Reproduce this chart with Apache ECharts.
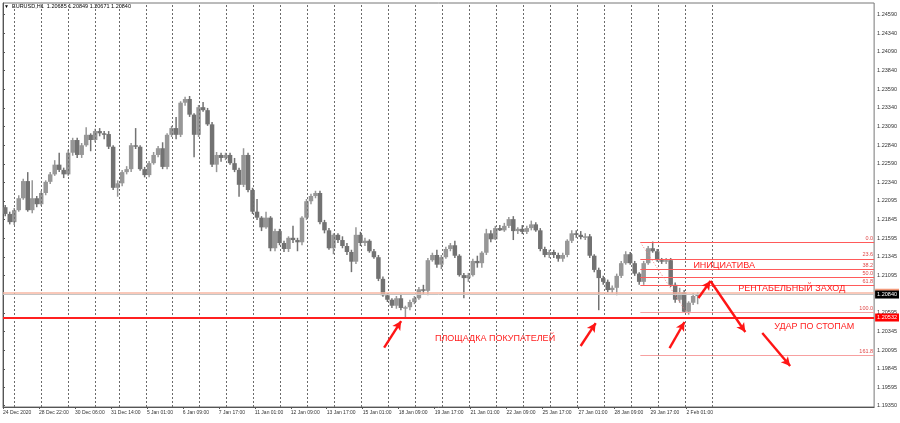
<!DOCTYPE html>
<html>
<head>
<meta charset="utf-8">
<script src="https://cdn.jsdelivr.net/npm/echarts@6/dist/echarts.min.js"></script>
<style>
html, body { margin: 0; padding: 0; background: #fff; }
#chart { width: 900px; height: 423px; }
</style>
</head>
<body>
<div id="chart"></div>
<script>
// EURUSD H1, grouped into 4-hour bars; x axis counts trading hours from 24 Dec 14:00
var barHours = 4;
var opens = [1.2201,1.2192,1.2181,1.2197,1.2213,1.2236,1.2197,1.2213,1.2205,1.2220,1.2235,1.2245,1.2258,1.2251,1.2245,1.2274,1.2291,1.2271,1.2284,1.2298,
  1.2291,1.2303,1.2300,1.2299,1.2282,1.2227,1.2233,1.2248,1.2252,1.2284,1.2282,1.2252,1.2244,1.2260,1.2271,1.2280,1.2255,1.2298,1.2307,1.2298,
  1.2341,1.2346,1.2325,1.2298,1.2335,1.2331,1.2312,1.2258,1.2271,1.2267,1.2271,1.2260,1.2251,1.2231,1.2271,1.2224,1.2195,1.2187,1.2174,1.2187,
  1.2146,1.2169,1.2153,1.2145,1.2160,1.2157,1.2154,1.2187,1.2209,1.2216,1.2220,1.2181,1.2170,1.2146,1.2164,1.2157,1.2149,1.2141,1.2128,1.2164,
  1.2153,1.2156,1.2142,1.2134,1.2105,1.2083,1.2077,1.2069,1.2079,1.2066,1.2067,1.2074,1.2079,1.2091,1.2089,1.2130,1.2137,1.2124,1.2134,1.2145,
  1.2150,1.2136,1.2110,1.2106,1.2110,1.2129,1.2126,1.2140,1.2166,1.2158,1.2173,1.2170,1.2176,1.2185,1.2169,1.2172,1.2168,1.2173,1.2178,1.2170,
  1.2145,1.2137,1.2141,1.2137,1.2132,1.2137,1.2156,1.2166,1.2164,1.2161,1.2162,1.2136,1.2117,1.2106,1.2101,1.2090,1.2093,1.2109,1.2126,1.2138,
  1.2126,1.2112,1.2101,1.2126,1.2146,1.2142,1.2130,1.2128,1.2130,1.2097,1.2077,1.2087,1.2061,1.2073,1.2082];
var closes = [1.2192,1.2181,1.2197,1.2213,1.2236,1.2197,1.2213,1.2205,1.2220,1.2235,1.2245,1.2258,1.2251,1.2245,1.2274,1.2291,1.2271,1.2284,1.2298,1.2291,
  1.2303,1.2300,1.2299,1.2282,1.2227,1.2233,1.2248,1.2252,1.2284,1.2282,1.2252,1.2244,1.2260,1.2271,1.2280,1.2255,1.2298,1.2307,1.2298,1.2341,
  1.2346,1.2325,1.2298,1.2335,1.2331,1.2312,1.2258,1.2271,1.2267,1.2271,1.2260,1.2251,1.2231,1.2271,1.2224,1.2195,1.2187,1.2174,1.2187,1.2146,
  1.2169,1.2153,1.2145,1.2160,1.2157,1.2154,1.2187,1.2209,1.2216,1.2220,1.2181,1.2170,1.2146,1.2164,1.2157,1.2149,1.2141,1.2128,1.2164,1.2153,
  1.2156,1.2142,1.2134,1.2105,1.2083,1.2077,1.2069,1.2079,1.2066,1.2067,1.2074,1.2079,1.2091,1.2089,1.2130,1.2137,1.2124,1.2134,1.2145,1.2150,
  1.2136,1.2110,1.2106,1.2110,1.2129,1.2126,1.2140,1.2166,1.2158,1.2173,1.2170,1.2176,1.2185,1.2169,1.2172,1.2168,1.2173,1.2178,1.2170,1.2145,
  1.2137,1.2141,1.2137,1.2132,1.2137,1.2156,1.2166,1.2164,1.2161,1.2162,1.2136,1.2117,1.2106,1.2101,1.2090,1.2093,1.2109,1.2126,1.2138,1.2126,
  1.2112,1.2101,1.2126,1.2146,1.2142,1.2130,1.2128,1.2130,1.2097,1.2077,1.2087,1.2061,1.2073,1.2082,1.2084];
var lows = [1.2189,1.2178,1.2177,1.2195,1.2211,1.2195,1.2193,1.2201,1.2203,1.2217,1.2232,1.2243,1.2248,1.2240,1.2243,1.2270,1.2267,1.2267,1.2282,1.2276,
  1.2288,1.2296,1.2292,1.2279,1.2224,1.2215,1.2229,1.2245,1.2248,1.2279,1.2250,1.2241,1.2241,1.2258,1.2268,1.2252,1.2252,1.2295,1.2292,1.2295,
  1.2337,1.2322,1.2268,1.2295,1.2329,1.2310,1.2255,1.2248,1.2262,1.2264,1.2258,1.2248,1.2215,1.2228,1.2221,1.2192,1.2184,1.2169,1.2172,1.2142,
  1.2142,1.2150,1.2141,1.2141,1.2153,1.2142,1.2150,1.2184,1.2205,1.2213,1.2178,1.2166,1.2144,1.2138,1.2153,1.2146,1.2137,1.2114,1.2125,1.2149,
  1.2149,1.2140,1.2132,1.2102,1.2081,1.2074,1.2066,1.2065,1.2063,1.2053,1.2063,1.2071,1.2077,1.2085,1.2083,1.2128,1.2120,1.2118,1.2132,1.2142,
  1.2133,1.2108,1.2079,1.2101,1.2108,1.2120,1.2120,1.2137,1.2154,1.2157,1.2169,1.2168,1.2173,1.2157,1.2165,1.2165,1.2165,1.2170,1.2168,1.2142,
  1.2134,1.2133,1.2133,1.2128,1.2128,1.2134,1.2153,1.2160,1.2158,1.2157,1.2133,1.2114,1.2063,1.2097,1.2087,1.2086,1.2083,1.2106,1.2124,1.2124,
  1.2109,1.2097,1.2097,1.2124,1.2140,1.2128,1.2125,1.2125,1.2094,1.2073,1.2073,1.2060,1.2057,1.2070,1.2071];
var highs = [1.2204,1.2195,1.2200,1.2217,1.2239,1.2248,1.2237,1.2216,1.2223,1.2237,1.2248,1.2264,1.2274,1.2254,1.2278,1.2294,1.2294,1.2287,1.2308,1.2300,
  1.2306,1.2307,1.2303,1.2303,1.2284,1.2237,1.2251,1.2256,1.2287,1.2307,1.2284,1.2255,1.2263,1.2275,1.2283,1.2288,1.2300,1.2310,1.2322,1.2343,
  1.2349,1.2350,1.2327,1.2338,1.2342,1.2334,1.2315,1.2275,1.2274,1.2274,1.2274,1.2267,1.2254,1.2280,1.2274,1.2227,1.2212,1.2189,1.2195,1.2189,
  1.2172,1.2172,1.2156,1.2162,1.2176,1.2160,1.2189,1.2212,1.2219,1.2223,1.2223,1.2184,1.2173,1.2166,1.2166,1.2162,1.2153,1.2144,1.2174,1.2168,
  1.2160,1.2158,1.2145,1.2137,1.2108,1.2086,1.2079,1.2082,1.2085,1.2069,1.2077,1.2082,1.2094,1.2097,1.2133,1.2140,1.2144,1.2137,1.2148,1.2153,
  1.2156,1.2138,1.2113,1.2113,1.2132,1.2136,1.2142,1.2172,1.2170,1.2176,1.2177,1.2180,1.2188,1.2189,1.2174,1.2177,1.2176,1.2183,1.2181,1.2173,
  1.2148,1.2144,1.2144,1.2140,1.2140,1.2158,1.2170,1.2170,1.2169,1.2166,1.2165,1.2138,1.2120,1.2109,1.2104,1.2096,1.2112,1.2129,1.2142,1.2141,
  1.2129,1.2114,1.2129,1.2149,1.2155,1.2145,1.2133,1.2133,1.2133,1.2100,1.2093,1.2090,1.2075,1.2086,1.2087];

// time axis labels (hour index -> text)
var timeTickIdx = [0,32,64,96,128,160,192,224,256,288,320,352,384,416,448,480,512,544,576,608];
var timeLabels = ['24 Dec 2020','28 Dec 22:00','30 Dec 06:00','31 Dec 14:00','5 Jan 01:00','6 Jan 09:00','7 Jan 17:00',
  '11 Jan 01:00','12 Jan 09:00','13 Jan 17:00','15 Jan 01:00','18 Jan 09:00','19 Jan 17:00','21 Jan 01:00',
  '22 Jan 09:00','25 Jan 17:00','27 Jan 01:00','28 Jan 09:00','29 Jan 17:00','2 Feb 01:00'];
// day separators (hour index of 00:00 of each day)
var daySeparators = [10,34,58,82,103,127,151,175,199,223,247,271,295,319,343,367,391,415,439,463,487,511,535,559,583,607,631];
// price scale labels
var priceTicks = [1.19350,1.19595,1.19845,1.20095,1.20345,1.20595,1.21095,1.21345,1.21595,1.21845,1.22095,
  1.22340,1.22590,1.22840,1.23090,1.23340,1.23590,1.23840,1.24090,1.24340,1.24590];

// levels
var bidPrice = 1.20840;
var supportLevel = 1.20532;
var entryLevel = 1.20864;
var fibNames = ['0.0','23.6','38.2','50.0','61.8','100.0','161.8'];
var fibLevels = [1.21540,1.21318,1.21181,1.21071,1.20960,1.20602,1.20022];
var fibStart = 567, fibEnd = 775, fibLowIdx = 608;
var axisStart = 0, axisEnd = 775;

var myChart;
chartInit();

function chartInit() {
	myChart = echarts.init(document.getElementById('chart'));
	var data = [];
	for (var i = 0; i < closes.length; i++) {
		data.push([i * barHours + barHours / 2, opens[i], closes[i], lows[i], highs[i]]);
	}
	myChart.setOption(buildOption(data));
	window.onresize = myChart.resize;
}

// одна свеча
function drawCandle(params, api) {
	var t = api.value(0);
	var o = api.value(1), c = api.value(2);
	var pO = api.coord([t, o]);
	var pC = api.coord([t, c]);
	var pL = api.coord([t, api.value(3)]);
	var pH = api.coord([t, api.value(4)]);
	var w = api.size([barHours, 0])[0];
	var col = c >= o ? '#979797' : '#727272';
	var top = Math.min(pO[1], pC[1]);
	var h = Math.max(1.5, Math.abs(pO[1] - pC[1]));
	return {
		type : 'group',
		children : [{
			type : 'line',
			shape : { x1 : pL[0], y1 : pL[1], x2 : pH[0], y2 : pH[1] },
			style : { stroke : col, lineWidth : 1.5 }
		}, {
			type : 'rect',
			shape : { x : pO[0] - w / 2, y : top, width : w, height : h },
			style : { fill : col }
		}]
	};
}

function tagLabel(text, bg, fg) {
	return {
		show : true, position : 'end', distance : 1, formatter : text,
		backgroundColor : bg, color : fg, fontSize : 5.5, padding : [1, 2],
		fontFamily : 'Liberation Sans'
	};
}

// горизонтальная линия от x1 до x2
function hLine(v, x1, x2, style, label) {
	return [{ coord : [x1, v], symbol : 'none', lineStyle : style },
		{ coord : [x2, v], symbol : 'none', lineStyle : style,
		  label : label || { show : false } }];
}

function arrow(x1, y1, x2, y2) {
	return [{ coord : [x1, y1], symbol : 'none' },
		{ coord : [x2, y2], symbol : 'arrow', symbolSize : [7, 9],
		  lineStyle : { color : '#ff1515', width : 2.4, type : 'solid' }, label : { show : false } }];
}

function note(x, y, text) {
	return {
		coord : [x, y], symbol : 'circle', symbolSize : 0,
		label : { show : true, position : 'right', distance : 0, formatter : text,
			color : '#ff2020', fontSize : 9, fontFamily : 'Liberation Sans' }
	};
}

function buildOption(data) {
	var lines = [];
	// разделители дней
	for (var i = 0; i < daySeparators.length; i++) {
		lines.push({ xAxis : daySeparators[i], lineStyle : { color : '#6a6a6a', width : 1, type : [2, 2] }, label : { show : false } });
	}
	lines.push(hLine(entryLevel, axisStart, axisEnd, { color : '#f7b7a3', width : 1.6, type : 'solid' }, tagLabel('1.20864', '#f39a7a', '#f39a7a')));
	lines.push(hLine(bidPrice, axisStart, axisEnd, { color : '#c4c4c4', width : 1, type : 'solid' }, tagLabel('1.20840', '#000', '#fff')));
	lines.push(hLine(supportLevel, axisStart, axisEnd, { color : '#ff2020', width : 2, type : 'solid' }, tagLabel('1.20532', '#ff0000', '#fff')));
	// уровни Фибоначчи
	for (var j = 0; j < fibLevels.length; j++) {
		var c = j >= 5 ? '#f7a0a0' : '#ff5a5a';
		lines.push(hLine(fibLevels[j], fibStart, fibEnd, { color : c, width : 1, type : 'solid', opacity : 1 },
			{ show : true, position : 'insideEndTop', distance : 1, formatter : fibNames[j],
			  color : '#e04848', fontSize : 5.5, fontFamily : 'Liberation Sans' }));
	}
	lines.push([{ coord : [fibStart, fibLevels[0]], symbol : 'none' },
		{ coord : [fibLowIdx, fibLevels[5]], symbol : 'none', lineStyle : { color : '#f08080', width : 1, type : [1, 2] }, label : { show : false } }]);
	// стрелки
	lines.push(arrow(339.1, 1.20128, 354.2, 1.20485));
	lines.push(arrow(513.9, 1.20150, 527.3, 1.20458));
	lines.push(arrow(593.0, 1.20123, 606.3, 1.20472));
	lines.push(arrow(618.7, 1.20793, 629.4, 1.21021));
	lines.push(arrow(629.4, 1.21021, 660.4, 1.20338));
	lines.push(arrow(675.5, 1.20325, 700.3, 1.19882));

	return {
		animation : false,
		backgroundColor : '#ffffff',
		textStyle : { fontFamily : 'Liberation Sans' },
		graphic : [{
			type : 'text', left : 4, top : 4,
			style : { text : '\u25BC', fontSize : 5, fill : '#000' }
		}, {
			type : 'text', left : 12, top : 3,
			style : { text : 'EURUSD,H1  1.20685 1.20849 1.20671 1.20840', fontSize : 5.5, fontFamily : 'Liberation Sans', fill : '#000' }
		}],
		grid : {
			left : 3, right : 24, top : 3, bottom : 16,
			show : true, borderColor : '#777', borderWidth : 1, backgroundColor : '#fff'
		},
		xAxis : {
			type : 'value', min : axisStart, max : axisEnd,
			axisLine : { show : true, lineStyle : { color : '#555' } },
			axisTick : { show : true, customValues : timeTickIdx, length : 2, lineStyle : { color : '#555' } },
			axisLabel : {
				customValues : timeTickIdx, align : 'left', fontSize : 5, color : '#333', margin : 3,
				formatter : function(v) { return timeLabels[timeTickIdx.indexOf(v)]; }
			},
			splitLine : { show : false }
		},
		yAxis : {
			type : 'value', position : 'right', min : 1.19333, max : 1.24746,
			axisLine : { show : true, lineStyle : { color : '#555' } },
			axisTick : { show : true, customValues : priceTicks, length : 2, lineStyle : { color : '#555' } },
			axisLabel : {
				customValues : priceTicks, fontSize : 5.5, color : '#333', margin : 3,
				formatter : function(v) { return v.toFixed(5); }
			},
			splitLine : { show : false }
		},
		series : [{
			name : 'EURUSD',
			type : 'custom',
			renderItem : drawCandle,
			encode : { x : 0, y : [1, 2, 3, 4] },
			data : data,
			clip : true,
			markLine : {
				silent : true, symbol : ['none', 'none'], animation : false,
				data : lines
			},
			markPoint : {
				silent : true, animation : false,
				data : [
					note(614.2, 1.21229, 'ИНИЦИАТИВА'),
					note(654.2, 1.20914, 'РЕНТАБЕЛЬНЫЙ ЗАХОД'),
					note(686.1, 1.20405, 'УДАР ПО СТОПАМ'),
					note(384.3, 1.20248, 'ПЛОЩАДКА ПОКУПАТЕЛЕЙ')
				]
			}
		}]
	};
}
</script>
</body>
</html>
